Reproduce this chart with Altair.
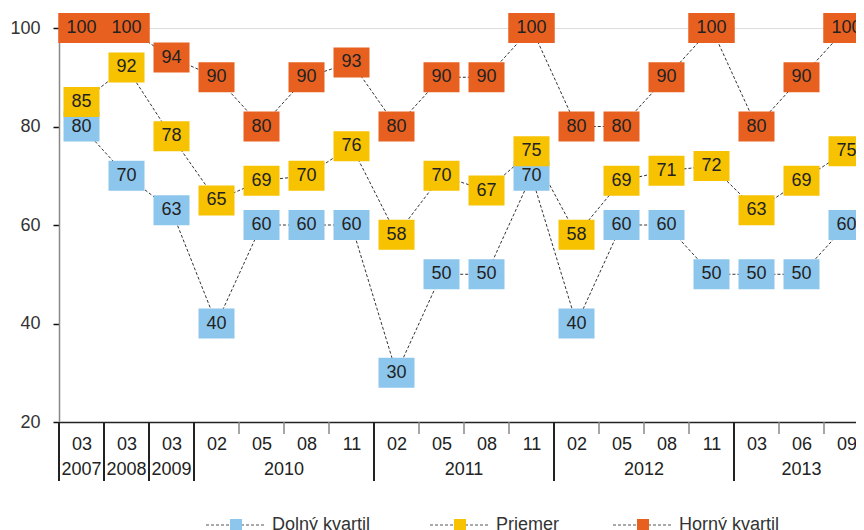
import altair as alt
import pandas as pd

# ---- data ----
months = ["03", "03", "03", "02", "05", "08", "11", "02", "05", "08", "11",
          "02", "05", "08", "11", "03", "06", "09"]
years = ["2007", "2008", "2009", "2010", "2010", "2010", "2010", "2011", "2011",
         "2011", "2011", "2012", "2012", "2012", "2012", "2013", "2013", "2013"]
dolny = [80, 70, 63, 40, 60, 60, 60, 30, 50, 50, 70, 40, 60, 60, 50, 50, 50, 60]
priemer = [85, 92, 78, 65, 69, 70, 76, 58, 70, 67, 75, 58, 69, 71, 72, 63, 69, 75]
horny = [100, 100, 94, 90, 80, 90, 93, 80, 90, 90, 100, 80, 80, 90, 100, 80, 90, 100]
series_names = ["Dolný kvartil", "Priemer", "Horný kvartil"]
colors = ["#8DC6EC", "#F7C200", "#E8601F"]
y_ticks = [20, 40, 60, 80, 100]

keys = [f"{m} {y}" for m, y in zip(months, years)]

rows = []
for s, vals in zip(series_names, [dolny, priemer, horny]):
    for k, v in zip(keys, vals):
        rows.append({"key": k, "series": s, "value": v, "w": "w" if v >= 100 else "n"})
df = pd.DataFrame(rows)

# separators
sep_rows = []
for i, k in enumerate(keys):
    first = i == 0 or years[i] != years[i - 1]
    sep_rows.append({"key": k, "kind": "long" if first else "short"})
sep = pd.DataFrame(sep_rows)

# year labels (centered on their group)
yl_rows = []
for y in dict.fromkeys(years):
    idx = [i for i, yy in enumerate(years) if yy == y]
    n = len(idx)
    if n % 2 == 1:
        yl_rows.append({"key": keys[idx[n // 2]], "year": y, "shift": "no"})
    else:
        yl_rows.append({"key": keys[idx[n // 2 - 1]], "year": y, "shift": "yes"})
yl = pd.DataFrame(yl_rows)

FONT = "Liberation Sans"
W, H = 797, 394
RANGE = 810
BAND = RANGE / len(keys)

xscale = alt.Scale(type="point", domain=keys, padding=0.5, range=[0, RANGE])
x_enc = alt.X("key:N", scale=xscale, title=None,
              axis=alt.Axis(labelExpr="split(datum.label, ' ')[0]", ticks=False,
                            labelAngle=0, labelFont=FONT, labelFontSize=18,
                            labelColor="#222", labelPadding=13, domainColor="#222",
                            domainWidth=1.5, labelOverlap=False))
y_enc = alt.Y("value:Q", scale=alt.Scale(domain=[20, 100], nice=False, zero=False),
              title=None,
              axis=alt.Axis(values=y_ticks, labelFont=FONT, labelFontSize=18,
                            labelColor="#333", tickColor="#111", tickSize=6,
                            tickWidth=1.5, domainColor="#888", domainWidth=1.5,
                            labelPadding=13, grid=False))

base = alt.Chart(df)

lines = base.mark_line(strokeDash=[3, 2], strokeWidth=1, color="#333").encode(
    x=x_enc, y=y_enc, detail="series:N")

p_narrow = "M-1.2,-1L1.2,-1L1.2,1L-1.2,1Z"
p_wide = "M-1.55,-1L1.55,-1L1.55,1L-1.55,1Z"
boxes = base.mark_point(filled=True, opacity=1, size=900, strokeWidth=0).encode(
    x=x_enc, y=y_enc,
    color=alt.Color("series:N", scale=alt.Scale(domain=series_names, range=colors),
                    legend=None),
    shape=alt.Shape("w:N", scale=alt.Scale(domain=["n", "w"], range=[p_narrow, p_wide]),
                    legend=None))

labels = base.mark_text(font=FONT, fontSize=18, color="#222", baseline="middle").encode(
    x=x_enc, y=y_enc, text="value:Q")

sep_long = alt.Chart(sep).transform_filter(alt.datum.kind == "long").mark_rule(
    xOffset=-BAND / 2, color="#222", strokeWidth=2).encode(
    x=x_enc, y=alt.value(H), y2=alt.value(H + 59))
sep_short = alt.Chart(sep).transform_filter(alt.datum.kind == "short").mark_rule(
    xOffset=-BAND / 2, color="#888", strokeWidth=1.5).encode(
    x=x_enc, y=alt.value(H), y2=alt.value(H + 12))

year_a = alt.Chart(yl).transform_filter(alt.datum.shift == "no").mark_text(
    font=FONT, fontSize=18, color="#222", baseline="middle").encode(
    x=x_enc, y=alt.value(H + 48), text="year:N")
year_b = alt.Chart(yl).transform_filter(alt.datum.shift == "yes").mark_text(
    font=FONT, fontSize=18, color="#222", baseline="middle", dx=BAND / 2).encode(
    x=x_enc, y=alt.value(H + 48), text="year:N")

# manual legend
leg_x = [177, 401, 584]
LY = 497
one = pd.DataFrame({"a": [0]})
legend_layers = []
for name, c, cx in zip(series_names, colors, leg_x):
    legend_layers.append(alt.Chart(one).mark_rule(strokeDash=[3, 2], strokeWidth=1,
                                                  color="#555").encode(
        x=alt.value(cx - 30), x2=alt.value(cx + 30), y=alt.value(LY)))
    legend_layers.append(alt.Chart(one).mark_point(shape="square", filled=True, opacity=1,
                                                   size=144, color=c).encode(
        x=alt.value(cx), y=alt.value(LY)))
    legend_layers.append(alt.Chart(one).mark_text(align="left", baseline="middle", font=FONT,
                                                  fontSize=18, color="#333").encode(
        x=alt.value(cx + 36), y=alt.value(LY), text=alt.value(name)))

chart = alt.layer(lines, boxes, labels, sep_short, sep_long, year_a, year_b,
                  *legend_layers).properties(
    width=W, height=H,
    autosize=alt.AutoSizeParams(type="none"),
    padding={"left": 51, "top": 20, "right": 0, "bottom": 108},
).configure_view(stroke=None).configure(background="white")

chart.save("out.html", embed_options={"renderer": "svg", "actions": False})
